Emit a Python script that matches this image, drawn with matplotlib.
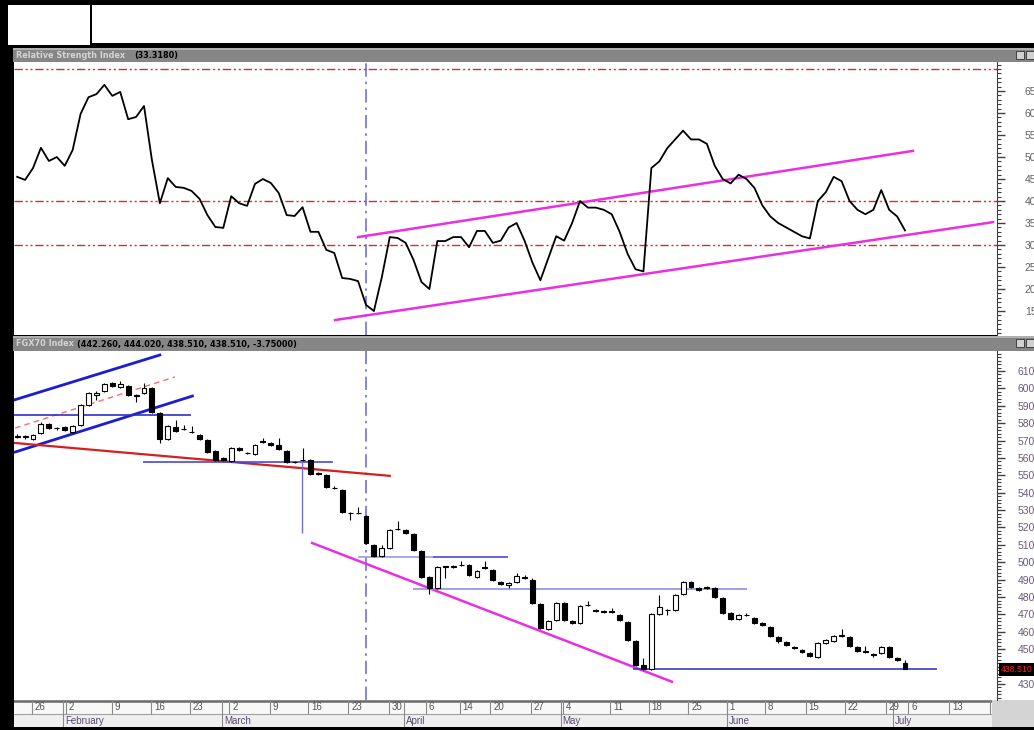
import numpy as np
import matplotlib
matplotlib.use('Agg')
import matplotlib.pyplot as plt
from matplotlib.patches import Rectangle
from matplotlib.ticker import FixedLocator, MultipleLocator
import matplotlib.transforms as mtransforms

# ---- data (trading day index 0..112) ----
rsi = [45.5, 44.8, 47.5, 52.1, 49.1, 50, 48, 51.6, 59.8, 63.6,
       64.3, 66.4, 63.9, 64.8, 58.6, 59.1, 61.6, 49.3, 39.5, 45.2,
       43.2, 43, 42.3, 40.5, 36.8, 34.1, 33.9, 41.1, 39.5, 38.9,
       43.9, 45, 44.1, 41.8, 36.8, 36.6, 38.6, 33, 33, 28.9,
       28.2, 22.5, 22.3, 21.8, 16.4, 15, 22.7, 31.8, 31.6, 30.5,
       26.6, 21.6, 20, 30.9, 30.9, 31.8, 31.8, 29.5, 33.2, 33.2,
       30.5, 31, 34, 35, 31, 26, 22, 27, 32, 31,
       35, 40, 38.5, 38.5, 38, 37, 33, 28, 24.5, 24,
       47.5, 49, 52, 54, 56, 54, 54, 53, 48, 45,
       44, 46, 45, 43, 39, 36.5, 35, 34, 33, 32,
       31.5, 40, 42, 45.5, 44.5, 40, 38, 37, 38, 42.5,
       38, 36.5, 33.318]

opens = [572.5, 572.0, 570.9, 574.4, 579.5, 577.0, 577.8, 574.9, 579.0, 590.5,
         596.4, 598.5, 603.1, 600.8, 601.4, 596.4, 597.4, 600.2, 585.9, 570.9,
         577.8, 576.9, 575.1, 573.2, 570.3, 564.0, 559.7, 558.3, 565.7, 563.1,
         562.3, 569.2, 568.6, 567.5, 564.0, 557.9, 559.1, 558.9, 551.1, 550.2,
         543.0, 541.6, 528.6, 528.6, 526.7, 510.0, 503.7, 508.3, 519.4, 518.6,
         516.3, 506.6, 491.6, 485.3, 497.6, 497.2, 498.7, 498.5, 491.6, 497.0,
         495.6, 488.7, 486.8, 488.7, 491.8, 489.9, 476.1, 461.7, 466.9, 476.7,
         466.3, 465.2, 475.7, 472.6, 472.0, 471.7, 469.8, 465.8, 454.8, 441.0,
         438.7, 470.3, 472.8, 472.6, 481.8, 488.7, 485.1, 485.0, 485.3, 479.5,
         470.9, 467.5, 469.9, 468.1, 465.2, 462.9, 457.1, 454.3, 451.4, 449.7,
         447.9, 445.6, 453.7, 454.8, 457.9, 457.1, 451.4, 448.7, 447.0, 447.9,
         451.4, 445.1, 442.26]
closes = [572.0, 572.5, 573.2, 579.5, 577.2, 577.4, 576.1, 578.4, 590.5, 597.4,
          597.6, 602.5, 601.4, 602.5, 596.2, 595.9, 600.2, 586.4, 570.9, 578.4,
          575.5, 576.4, 574.7, 570.9, 563.4, 558.9, 559.1, 565.7, 564.6, 562.7,
          567.5, 569.6, 567.5, 565.2, 557.7, 557.5, 558.7, 550.8, 550.6, 543.3,
          542.6, 529.0, 528.2, 528.2, 511.2, 503.7, 508.3, 518.6, 519.0, 516.9,
          507.1, 491.6, 485.3, 497.4, 497.2, 497.6, 498.3, 492.8, 495.1, 496.6,
          489.9, 487.6, 488.0, 492.2, 490.9, 476.7, 462.3, 466.3, 476.7, 466.9,
          465.2, 474.9, 475.3, 471.8, 471.2, 471.3, 466.9, 455.4, 441.0, 438.7,
          470.3, 474.4, 472.4, 481.3, 488.7, 485.9, 484.3, 485.5, 480.1, 470.9,
          467.5, 469.8, 469.5, 465.2, 464.0, 457.7, 454.8, 452.5, 450.6, 448.5,
          446.2, 453.7, 455.4, 457.7, 457.5, 452.0, 449.1, 448.3, 446.6, 451.4,
          445.6, 443.9, 438.51]
highs = [573.5, 573.0, 574.0, 580.7, 580.2, 578.0, 578.4, 579.0, 591.1, 598.0,
         598.5, 603.1, 603.7, 604.5, 602.0, 597.0, 603.1, 600.8, 586.4, 579.0,
         581.8, 579.0, 578.4, 573.8, 570.9, 564.6, 560.5, 566.3, 566.3, 563.7,
         568.1, 571.5, 569.2, 571.5, 564.6, 558.5, 565.7, 559.5, 551.8, 550.8,
         543.6, 542.2, 529.2, 531.8, 527.3, 510.6, 510.0, 519.2, 523.8, 519.2,
         516.9, 507.1, 492.2, 498.0, 498.0, 498.2, 500.8, 499.1, 495.7, 500.8,
         496.2, 489.3, 488.4, 493.9, 492.4, 491.2, 476.7, 466.9, 477.3, 477.3,
         466.9, 475.5, 477.8, 473.2, 472.6, 473.8, 470.4, 466.4, 455.4, 445.1,
         470.9, 481.3, 473.2, 481.9, 489.3, 489.3, 485.7, 486.5, 485.9, 480.1,
         471.5, 470.4, 470.8, 468.7, 465.8, 463.5, 457.7, 454.9, 452.0, 450.3,
         448.5, 454.3, 456.0, 458.3, 461.7, 457.7, 452.0, 452.0, 447.8, 452.0,
         452.0, 445.7, 444.02]
lows = [571.5, 571.0, 570.5, 574.0, 576.6, 576.3, 575.5, 574.3, 578.4, 590.0,
        593.3, 597.9, 600.8, 600.2, 595.6, 592.2, 596.8, 585.8, 568.6, 570.3,
        574.9, 576.0, 574.2, 570.3, 562.8, 558.3, 558.5, 557.7, 564.0, 562.0,
        561.7, 568.6, 566.9, 564.6, 557.1, 556.9, 558.1, 550.2, 550.0, 542.7,
        542.0, 528.4, 524.4, 527.6, 510.6, 503.1, 503.1, 507.7, 518.6, 516.3,
        506.5, 491.0, 481.8, 484.7, 491.0, 496.8, 497.9, 492.2, 491.0, 496.0,
        489.3, 487.0, 485.3, 488.1, 490.4, 476.1, 461.7, 461.1, 466.3, 466.3,
        464.6, 464.6, 474.9, 471.2, 470.6, 470.7, 466.3, 454.8, 440.4, 438.1,
        438.1, 469.7, 469.8, 472.0, 481.2, 485.3, 483.7, 484.6, 479.5, 470.3,
        466.9, 466.9, 469.0, 464.6, 463.4, 457.1, 453.6, 451.9, 450.0, 447.9,
        445.6, 445.0, 453.1, 454.2, 457.0, 451.4, 448.5, 447.7, 445.8, 447.3,
        445.0, 443.3, 438.51]

# date axis labels (positions in trading-day index)
day_pos = [1.9, 6.2, 12.0, 17.0, 21.9, 26.9, 32.0, 36.9, 42.0, 47.2, 51.8, 56.1, 60.0,
           65.1, 69.2, 75.2, 80.1, 85.1, 90.0, 94.8, 100.0, 105.0, 110.1, 113.0, 118.2, 123.3]
day_labels = ['26', '2', '9', '16', '23', '2', '9', '16', '23', '30', '6', '14', '20',
              '27', '4', '11', '18', '25', '1', '8', '15', '22', '29', '6', '13', '20']
month_pos = [5.8, 26.0, 49.1, 68.9, 90.0, 111.0]
month_labels = ['February', 'March', 'April', 'May', 'June', 'July']

rsi_ticks = [15, 20, 25, 30, 35, 40, 45, 50, 55, 60, 65]
price_ticks = [430, 440, 450, 460, 470, 480, 490, 500, 510, 520,
               530, 540, 550, 560, 570, 580, 590, 600, 610]
price_tick_labels = ['430', '', '450', '460', '470', '480', '490', '500', '510', '520',
                     '530', '540', '550', '560', '570', '580', '590', '600', '610']

# drawn lines (index, value)
rsi_levels = [70, 40, 30]
rsi_up_x, rsi_up_y = [43.0, 113.0], [31.8, 51.4]
rsi_lo_x, rsi_lo_y = [40.1, 123.1], [12.95, 35.2]
marker_day = 44.0

chan_up_x, chan_up_y = [-0.4, 18.0], [593.3, 619.2]
chan_lo_x, chan_lo_y = [-0.25, 22.1], [563.4, 595.6]
chan_mid_x, chan_mid_y = [-0.25, 19.9], [577.2, 606.6]
red_x, red_y = [-0.25, 47.0], [568.6, 549.7]
mag_x, mag_y = [37.2, 82.6], [511.1, 431.3]
hl1_x, hl1_y = [-0.4, 21.9], 584.7
hl2_x, hl2_y = [15.9, 39.8], 557.7
vseg_x, vseg_y = 35.9, [516.9, 557.7]
hl3a_x, hl3b_x, hl3_y = [43.0, 52.5], [52.5, 61.9], 503.3
hl4_x, hl4_y = [49.9, 92.1], 484.5
hl5_x, hl5_y = [77.7, 116.0], 438.7

# ---- figure layout in pixels ----
W, H = 1034, 730
fig = plt.figure(figsize=(W / 100, H / 100), dpi=100, facecolor='black')


def px_axes(x0, y0, x1, y1):
    return fig.add_axes([x0 / W, 1 - y1 / H, (x1 - x0) / W, (y1 - y0) / H])


bg = px_axes(0, 0, W, H)
bg.set_xlim(0, W)
bg.set_ylim(H, 0)
bg.axis('off')
bg.add_patch(Rectangle((8, 5), 82, 40, fc='white', ec='none'))
bg.add_patch(Rectangle((92, 5), 942, 38, fc='white', ec='none'))
for top, h in [(48, 14), (336, 15)]:
    bg.add_patch(Rectangle((13, top), 1021, h, fc='#868686', ec='none'))
    bg.add_patch(Rectangle((13, top), 1021, 1.5, fc='#b0b0b0', ec='none'))
    bg.add_patch(Rectangle((1016, top + 2.5), 8, 8, fc='#d0d0d0', ec='#303030', lw=0.6))
    bg.add_patch(Rectangle((1026, top + 2.5), 8, 8, fc='#d0d0d0', ec='#303030', lw=0.6))
bg.add_patch(Rectangle((997, 62), 37, 274, fc='white', ec='none'))
bg.add_patch(Rectangle((997, 351), 37, 349, fc='white', ec='none'))
bg.add_patch(Rectangle((992, 700), 42, 27, fc='#d4d4d4', ec='none'))

hfont = dict(fontsize=5.9, fontweight='bold', va='center', family='DejaVu Sans')
bg.text(16, 55.5, 'Relative Strength Index', color='#d4d4d4', **hfont)
bg.text(134, 55.5, '(33.3180)', color='black', **hfont)
bg.text(16, 344, 'FGX70 Index', color='#d4d4d4', **hfont)
bg.text(77, 344, '(442.260, 444.020, 438.510, 438.510, -3.75000)', color='black', **hfont)

xlim = (-0.4, 123.6)
ax1 = px_axes(14, 62, 997, 335)
ax2 = px_axes(14, 351, 997, 700)
for ax in (ax1, ax2):
    ax.set_facecolor('white')
    ax.set_xlim(*xlim)
    ax.set_xticks([])
    for s in ('top', 'left', 'bottom'):
        ax.spines[s].set_visible(False)
    ax.spines['right'].set_color('#404040')
    ax.yaxis.tick_right()
    ax.tick_params(axis='y', which='major', length=6, width=1, color='#404040',
                   labelsize=7.5, labelcolor='#606060')
    ax.tick_params(axis='y', which='minor', length=3, width=0.8, color='#404040')
    ax.axvline(marker_day, color='#7070e0', lw=1.2, ls=(0, (8, 3, 1.5, 3)), zorder=1)

# RSI panel
x = np.arange(len(rsi))
ax1.set_ylim(9.55, 71.6)
ax1.yaxis.set_major_locator(FixedLocator(rsi_ticks))
ax1.yaxis.set_minor_locator(MultipleLocator(1))
ax1.set_yticklabels([str(t) for t in rsi_ticks], family='Liberation Sans')
ax1.tick_params(axis='y', which='major', pad=14)
for lv in rsi_levels:
    ax1.axhline(lv, color='#dd2a2a', lw=1, ls=(0, (6, 2, 1.5, 2, 1.5, 2)), zorder=1)
ax1.plot(rsi_up_x, rsi_up_y, color='#e830e0', lw=1.8, zorder=2)
ax1.plot(rsi_lo_x, rsi_lo_y, color='#e830e0', lw=1.8, zorder=2)
ax1.plot(x, rsi, color='black', lw=1.3, zorder=3)

# price panel
o = np.array(opens)
c = np.array(closes)
ax2.set_ylim(420.8, 621.5)
ax2.yaxis.set_major_locator(FixedLocator(price_ticks))
ax2.yaxis.set_minor_locator(MultipleLocator(2))
ax2.set_yticklabels(price_tick_labels, family='Liberation Sans')
ax2.tick_params(axis='y', which='major', pad=9, labelcolor='#6a5a78')

ax2.plot(chan_up_x, chan_up_y, color='#1c1cd0', lw=2, zorder=2)
ax2.plot(chan_lo_x, chan_lo_y, color='#1c1cd0', lw=2, zorder=2)
ax2.plot(chan_mid_x, chan_mid_y, color='#f07070', lw=1, ls=(0, (4, 3)), zorder=2)
ax2.plot(red_x, red_y, color='#d42020', lw=1.6, zorder=2)
ax2.plot(mag_x, mag_y, color='#e830e0', lw=1.8, zorder=2)
ax2.hlines(hl1_y, *hl1_x, color='#3030c8', lw=1.2, zorder=2)
ax2.hlines(hl2_y, *hl2_x, color='#4848d8', lw=1.2, zorder=2)
ax2.vlines(vseg_x, *vseg_y, color='#7070e0', lw=1, zorder=2)
ax2.hlines(hl3_y, *hl3a_x, color='#9a9ae8', lw=1.2, zorder=2)
ax2.hlines(hl3_y, *hl3b_x, color='#4848d8', lw=1.2, zorder=2)
ax2.hlines(hl4_y, *hl4_x, color='#9090e0', lw=1.2, zorder=2)
ax2.hlines(hl5_y, *hl5_x, color='#3a3ac8', lw=1.2, zorder=2)

ax2.vlines(x, lows, highs, color='black', lw=0.8, zorder=3)
body_bottom = np.minimum(o, c)
body_h = np.maximum(np.abs(c - o), 0.35)
face = ['black' if cc < oo else 'white' for oo, cc in zip(o, c)]
ax2.bar(x, body_h, bottom=body_bottom, width=0.62, color=face, edgecolor='black',
        linewidth=0.8, zorder=4)

blend = mtransforms.blended_transform_factory(ax2.transAxes, ax2.transData)
ax2.text(1.004, closes[-1], '438.510', transform=blend, color='#ff2020', fontsize=6.3,
         va='center', ha='left', family='Liberation Sans', clip_on=False, zorder=10,
         bbox=dict(fc='black', ec='none', pad=1.6))

# date axis
dax = px_axes(14, 700, 992, 727)
dax.set_xlim(*xlim)
dax.set_ylim(0, 27)
dax.axis('off')
dax.add_patch(Rectangle((xlim[0], 13), xlim[1] - xlim[0], 14, fc='#f8f8f8', ec='none'))
dax.add_patch(Rectangle((xlim[0], 0), xlim[1] - xlim[0], 13, fc='#efefef', ec='none'))
dax.axhline(26.5, color='#6a6a6a', lw=1.8)
dax.axhline(13, color='#a0a0a0', lw=0.8)
dax.vlines(day_pos, 13, 27, color='#8a8a8a', lw=0.8)
dax.vlines(month_pos, 0, 27, color='#8a8a8a', lw=0.8)
for p, lab in zip(day_pos, day_labels):
    dax.text(p + 0.35, 19.5, lab, fontsize=7, color='#555555', va='center', ha='left',
             family='Liberation Sans', clip_on=True)
for p, lab in zip(month_pos, month_labels):
    dax.text(p + 0.25, 6.2, lab, fontsize=7, color='#5a4a70', va='center', ha='left',
             family='Liberation Sans', clip_on=True)

plt.savefig('out.png', dpi=100, facecolor='black')
